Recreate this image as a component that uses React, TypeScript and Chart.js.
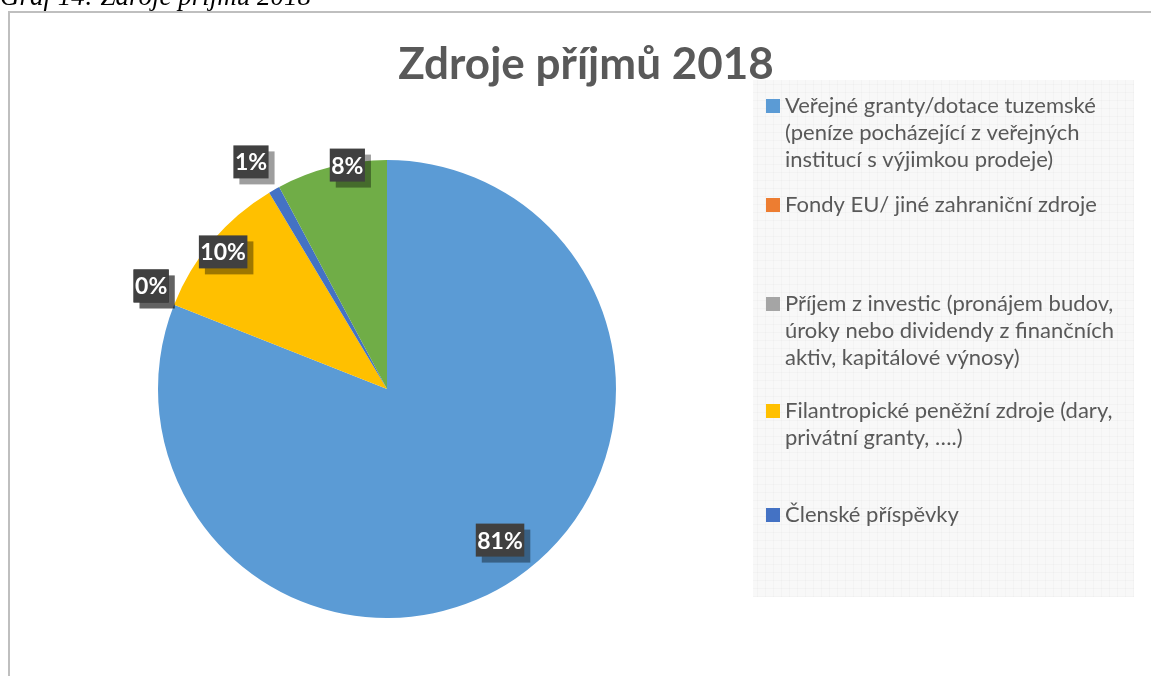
import { useEffect, useRef } from "react";
import { Chart, registerables } from "chart.js";

Chart.register(...registerables);

// ---- data ----
const categories = [
  "Veřejné granty/dotace tuzemské (peníze pocházející z veřejných institucí s výjimkou prodeje)",
  "Fondy EU/ jiné zahraniční zdroje",
  "Příjem z investic (pronájem budov, úroky nebo dividendy z finančních aktiv, kapitálové výnosy)",
  "Filantropické peněžní zdroje (dary, privátní granty, ….)",
  "Členské příspěvky",
  "Ostatní zdroje",
];
const shares = [81.0, 0, 0, 10.4, 0.8, 7.8];
const chartTitle = "Zdroje příjmů 2018";
const captionText = "Graf 14: Zdroje příjmů 2018";

// ---- styles / layout ----
const sliceColors = ["#5B9BD5", "#ED7D31", "#A5A5A5", "#FFC000", "#4472C4", "#70AD47"];
const labelRadius = [0.824, 1.124, 1.124, 0.933, 1.156, 0.993];
const labelAngleShift = [-2.6, 2, 2, -0.4, -1.4, 4];
const legendLineY = [106, 205, 304, 411, 515, 618];
const W = 1151;
const H = 676;
const LEG = { x: 753, y: 80, w: 381, h: 517 };

function wrap(ctx: CanvasRenderingContext2D, text: string, maxW: number): string[] {
  const words = text.split(" ");
  const lines: string[] = [];
  let cur = "";
  for (const w of words) {
    const t = cur ? cur + " " + w : w;
    if (ctx.measureText(t).width > maxW && cur) {
      lines.push(cur);
      cur = w;
    } else cur = t;
  }
  if (cur) lines.push(cur);
  return lines;
}

const decor = {
  id: "decor",
  beforeDraw(chart: any) {
    const ctx: CanvasRenderingContext2D = chart.ctx;
    ctx.save();
    ctx.fillStyle = "#ffffff";
    ctx.fillRect(0, 0, W, H);
    // frame
    ctx.strokeStyle = "#bfbfbf";
    ctx.lineWidth = 2;
    ctx.beginPath();
    ctx.moveTo(9, H + 5);
    ctx.lineTo(9, 12);
    ctx.lineTo(W + 5, 12);
    ctx.stroke();
    // caption
    ctx.fillStyle = "#000000";
    ctx.font = "italic 27px 'Liberation Serif'";
    ctx.textAlign = "left";
    ctx.textBaseline = "alphabetic";
    ctx.fillText(captionText, 0, 5);
    // title
    ctx.fillStyle = "#595959";
    ctx.font = "bold 44px Lato";
    ctx.textAlign = "center";
    ctx.fillText(chartTitle, 586, 79);
    // legend background
    ctx.fillStyle = "#f8f8f8";
    ctx.fillRect(LEG.x, LEG.y, LEG.w, LEG.h);
    ctx.strokeStyle = "rgba(0,0,0,0.02)";
    ctx.lineWidth = 1;
    ctx.beginPath();
    for (let x = LEG.x + 4.5; x < LEG.x + LEG.w; x += 8) {
      ctx.moveTo(x, LEG.y);
      ctx.lineTo(x, LEG.y + LEG.h);
    }
    for (let y = LEG.y + 4.5; y < LEG.y + LEG.h; y += 8) {
      ctx.moveTo(LEG.x, y);
      ctx.lineTo(LEG.x + LEG.w, y);
    }
    ctx.stroke();
    // legend entries
    ctx.beginPath();
    ctx.rect(LEG.x, LEG.y, LEG.w, LEG.h);
    ctx.clip();
    ctx.font = "22px Lato";
    ctx.textAlign = "left";
    ctx.textBaseline = "middle";
    categories.forEach((c, i) => {
      const y0 = legendLineY[i];
      ctx.fillStyle = sliceColors[i];
      ctx.fillRect(766, y0 - 7, 14, 14);
      ctx.fillStyle = "#595959";
      const lines = wrap(ctx, c, 350);
      lines.forEach((ln, k) => ctx.fillText(ln, 785, y0 + k * 27));
    });
    ctx.restore();
  },
  afterDatasetsDraw(chart: any) {
    const ctx: CanvasRenderingContext2D = chart.ctx;
    const meta = chart.getDatasetMeta(0);
    const total = shares.reduce((a, b) => a + b, 0);
    ctx.save();
    ctx.font = "bold 23px Lato";
    ctx.textAlign = "center";
    ctx.textBaseline = "middle";
    meta.data.forEach((arc: any, i: number) => {
      const p = arc.getProps(["x", "y", "startAngle", "endAngle", "outerRadius"], true);
      const mid = (p.startAngle + p.endAngle) / 2 + (labelAngleShift[i] * Math.PI) / 180;
      const rr = p.outerRadius * labelRadius[i];
      const cx = p.x + Math.cos(mid) * rr;
      const cy = p.y + Math.sin(mid) * rr;
      const txt = Math.round((shares[i] / total) * 100) + "%";
      const bw = ctx.measureText(txt).width + 3;
      const bh = 33;
      ctx.fillStyle = "rgba(0,0,0,0.38)";
      ctx.fillRect(cx - bw / 2 + 6, cy - bh / 2 + 6, bw, bh);
      ctx.fillStyle = "#404040";
      ctx.fillRect(cx - bw / 2, cy - bh / 2, bw, bh);
      ctx.fillStyle = "#ffffff";
      ctx.fillText(txt, cx, cy + 1);
    });
    ctx.restore();
  },
};

export default function App() {
  const ref = useRef<HTMLCanvasElement>(null);
  useEffect(() => {
    if (!ref.current) return;
    const chart = new Chart(ref.current, {
      type: "pie",
      data: {
        labels: categories,
        datasets: [{ data: shares, backgroundColor: sliceColors, borderWidth: 0 }],
      },
      options: {
        responsive: false,
        animation: false,
        events: [],
        layout: { padding: { left: 158, right: 535, top: 160, bottom: 58 } },
        plugins: {
          legend: { display: false },
          tooltip: { enabled: false },
          title: { display: false },
        },
      },
      plugins: [decor],
    });
    const fonts = (document as any).fonts;
    if (fonts && fonts.load) {
      Promise.all([
        fonts.load("22px Lato"),
        fonts.load("bold 44px Lato"),
        fonts.load("italic 27px 'Liberation Serif'"),
      ]).then(() => chart.draw()).catch(() => {});
    }
    return () => chart.destroy();
  }, []);
  return (
    <div style={{ position: "absolute", left: 0, top: 0, width: W, height: H, overflow: "hidden" }}>
      <canvas ref={ref} width={W} height={H} style={{ display: "block" }} />
    </div>
  );
}
